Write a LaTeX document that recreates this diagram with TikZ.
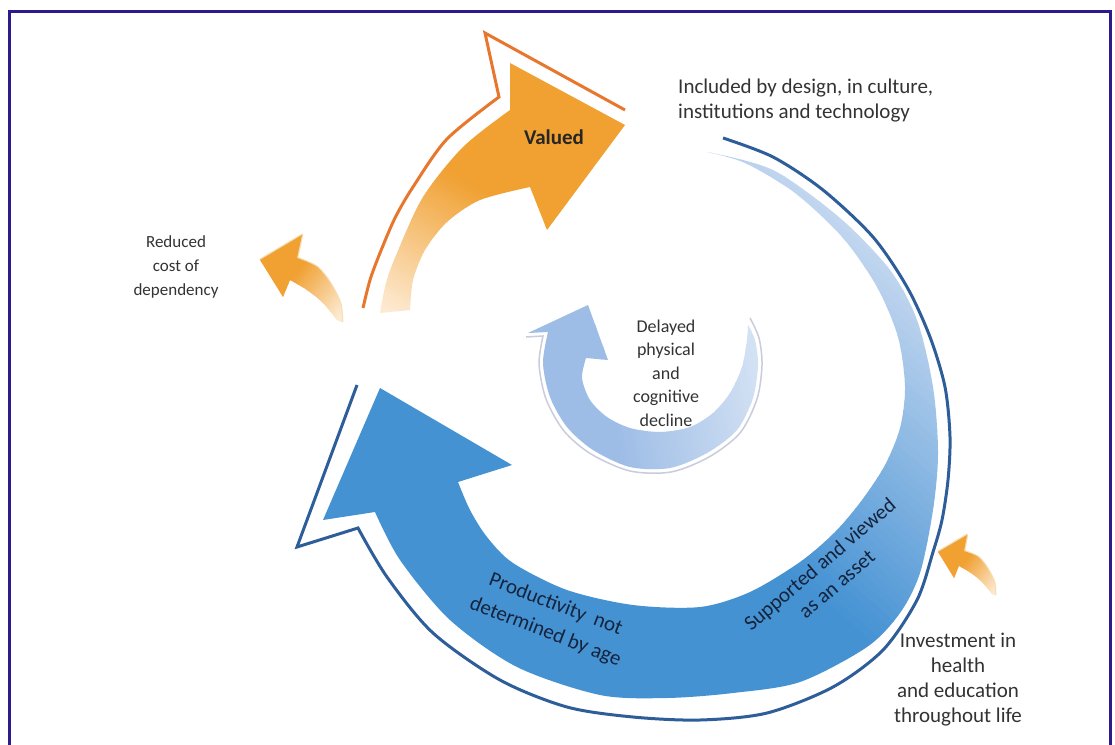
\documentclass[tikz,border=0pt]{standalone}
\usepackage{fontspec}
\setmainfont{Carlito}
\definecolor{framec}{HTML}{2B1B8C}
\definecolor{bluedark}{HTML}{4592D3}
\definecolor{bluelight}{HTML}{C4D7F0}
\definecolor{bluelinec}{HTML}{2E5E99}
\definecolor{orfill}{HTML}{F0A132}
\definecolor{orlight}{HTML}{FDEAD2}
\definecolor{orlinec}{HTML}{E8772E}
\definecolor{orcream}{HTML}{F6DDB2}
\definecolor{ringblue}{HTML}{9DBDE6}
\definecolor{ringlight}{HTML}{D6E3F4}
\definecolor{ringedge}{HTML}{C9CCDD}
\definecolor{txtgray}{HTML}{333333}
\definecolor{txtblue}{HTML}{15243C}
\newcommand{\gradfill}[7]{%
\begin{scope}
\clip #1;
\begin{scope}[transform canvas={shift={(#2,#3)},rotate=#4}]
\fill[#6] (-1500,-1500) rectangle (1500,0.5);
\foreach \k in {0,...,39}{%
  \pgfmathsetmacro\gfa{#5*\k/40}%
  \pgfmathsetmacro\gfb{#5*(\k+1)/40+0.6}%
  \pgfmathsetmacro\gfp{100*(\k+0.5)/40}%
  \fill[#7!\gfp!#6] (-1500,\gfa) rectangle (1500,\gfb);
}
\fill[#7] (-1500,#5) rectangle (1500,1500);
\end{scope}
\end{scope}}
\tikzset{
  framestroke/.style={draw=framec, line width=3pt},
  blueoutline/.style={draw=bluelinec, line width=3pt, line join=miter},
  oroutline/.style={draw=orlinec, line width=3pt, line join=miter},
  creamline/.style={draw=orcream, line width=2.5pt, line join=round},
  ringline/.style={draw=ringedge, line width=1.5pt},
  lbl/.style={font=\fontsize{21}{25}\selectfont, text=txtgray, align=center, inner sep=0pt},
  smalllbl/.style={font=\fontsize{17}{24}\selectfont, text=txtgray, align=center, inner sep=0pt},
  midlbl/.style={font=\fontsize{18}{23.5}\selectfont, text=txtgray, align=center, inner sep=0pt},
  boldlbl/.style={font=\fontsize{21}{25}\selectfont\bfseries, text=black!85, inner sep=0pt},
  curvelbl/.style={text=txtblue, align=center, inner sep=0pt},
}
\begin{document}
\begin{tikzpicture}[x=1pt,y=-1pt]
\useasboundingbox[fill=white] (0,0) rectangle (1115,744);

% frame
\draw[framestroke] (9.5,745) -- (9.5,11.5) -- (1110.5,11.5) -- (1110.5,745);

% big blue arrow
\gradfill{(380,388) -- (512,465) -- (458,482) -- plot[smooth] coordinates {(458,482) (470,510) (487,537) (513,563) (567,590) (633,605) (700,607) (750,592) (800,562) (835,532) (862,500) (885,465) (900,428) (905,387) (898,337) (877,287) (843,238) (795,193) (745,163) (707,152)} -- plot[smooth] coordinates {(707,152) (773,170) (840,218) (890,270) (917,320) (933,387) (938,453) (933,510) (920,573) (900,613) (867,647) (800,682) (733,693) (667,698) (600,695) (517,667) (450,620) (400,560) (375,512)} -- (323,520) -- cycle}{800}{180}{-41.2}{300}{bluelight}{bluedark}
\draw[blueoutline] plot[smooth] coordinates {(723,138) (773,157) (823,190) (873,237) (907,287) (930,337) (945,387) (950,437) (948,480) (942,520) (933,552) (917,600) (883,650) (833,687) (767,713) (700,720) (633,717) (567,707) (500,680) (433,633) (387,577) (358,528)} -- (297,547) -- (357,385);

% big orange arrow
\gradfill{(380,313) -- plot[smooth] coordinates {(380,313) (386,283) (397,253) (423,197) (463,147) (510,110)} -- (510,63) -- (625,125) -- (547,230) -- (530,187) -- plot[smooth] coordinates {(530,187) (480,200) (447,222) (425,250) (413,280) (410,310)} -- cycle}{392}{312}{150.3}{150}{orlight}{orfill}
\draw[oroutline] plot[smooth] coordinates {(363,308) (370,280) (380,253) (395,218) (413,187) (447,139) (499,97)} -- (485,33) -- (625,110);

% small orange arrows
\draw[creamline] (260,260) -- (302,235) -- (297,258) -- plot[smooth] coordinates {(297,258) (317,267) (330,283) (340,303) (342,322)};
\gradfill{(260,260) -- (302,235) -- (297,258) -- plot[smooth] coordinates {(297,258) (317,267) (330,283) (340,303) (342,322)} -- (337,320) -- plot[smooth] coordinates {(337,320) (323,303) (307,290) (290,280)} -- (283,297) -- cycle}{338}{318}{233.1}{60}{orlight}{orfill}
\draw[creamline] (938,552) -- (967,535) -- (964,551) -- plot[smooth] coordinates {(964,551) (978,557) (987,568) (994,582) (995,595)};
\gradfill{(938,552) -- (967,535) -- (964,551) -- plot[smooth] coordinates {(964,551) (978,557) (987,568) (994,582) (995,595)} -- (992,594) -- plot[smooth] coordinates {(992,594) (982,582) (971,573) (959,566)} -- (954,578) -- cycle}{994}{593}{233.1}{42}{orlight}{orfill}

% inner ring arrow
\draw[ringline] (526,337) -- (543,336) -- plot[smooth] coordinates {(543,336) (539,364) (546,399) (564,431) (591,454) (630,471) (671,472) (709,457) (740,433) (757,399) (762,365) (759,338) (750,318)};
\gradfill{(588,305) -- (608,360) -- (586,358) -- plot[smooth] coordinates {(586,358) (582,378) (590,400) (607,417) (630,428) (660,432) (690,427) (713,413) (730,393) (742,367) (747,340) (748,325)} -- plot[smooth] coordinates {(748,325) (755,340) (758,365) (753,398) (737,430) (707,453) (670,468) (630,467) (593,450) (567,427) (550,397) (543,363) (548,332)} -- (528,333) -- cycle}{760}{335}{-80}{160}{ringlight}{ringblue}

% labels
\node[lbl, anchor=west, align=left] (incl) at (678,100.5) {Included by design, in culture,\\institutions and technology};
\node[boldlbl] (valued) at (554,137) {Valued};
\node[smalllbl] (reduced) at (176,267) {Reduced\\cost of\\dependency};
\node[midlbl] (delayed) at (666,373) {Delayed\\physical\\and\\cognitive\\decline};
\node[lbl] (invest) at (958,680) {Investment in\\health\\and education\\throughout life};
\node[curvelbl, font=\fontsize{21}{29}\selectfont, rotate=-21] (prod) at (550.5,618.5) {Productivity\ \ not\\determined by age};
\node[curvelbl, font=\fontsize{21}{26}\selectfont, rotate=40.5] (supp) at (828,574) {Supported and viewed\\as an asset};
\end{tikzpicture}
\end{document}
